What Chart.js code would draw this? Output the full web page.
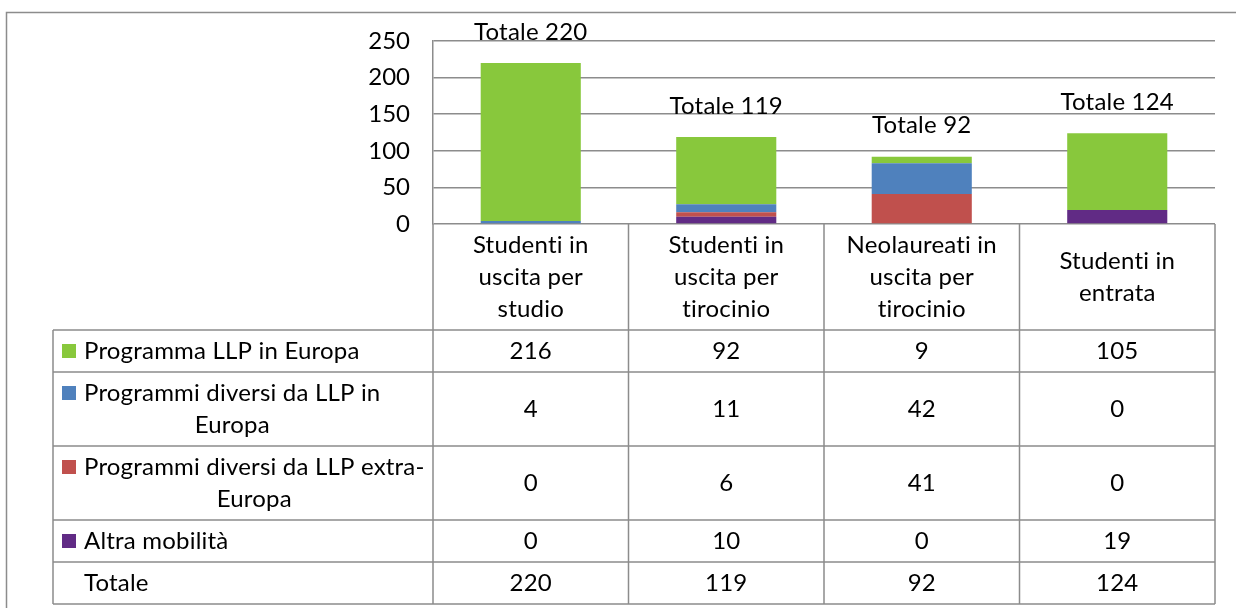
<!DOCTYPE html>
<html>
<head>
<meta charset="utf-8">
<script src="https://cdn.jsdelivr.net/npm/chart.js@4"></script>
<style>
  body { margin: 0; background: #fff; }
  #wrap { width: 1236px; height: 608px; position: relative; }
</style>
</head>
<body>
<div id="wrap"><canvas id="grafico" width="1236" height="608"></canvas></div>
<script>
// dati
const categorie = [
  ['Studenti in', 'uscita per', 'studio'],
  ['Studenti in', 'uscita per', 'tirocinio'],
  ['Neolaureati in', 'uscita per', 'tirocinio'],
  ['Studenti in', 'entrata']
];
const serieNomi = [
  ['Programma LLP in Europa'],
  ['Programmi diversi da LLP in', 'Europa'],
  ['Programmi diversi da LLP extra-', 'Europa'],
  ['Altra mobilità']
];
const llpEuropa = [216, 92, 9, 105];
const diversiEuropa = [4, 11, 42, 0];
const diversiExtra = [0, 6, 41, 0];
const altraMobilita = [0, 10, 0, 19];
const totali = [220, 119, 92, 124];
const yTicks = [0, 50, 100, 150, 200, 250];

const colori = ['#88c83c', '#4f81bd', '#c0504d', '#612b85'];
const FONT = 'Lato, Carlito, Calibri, sans-serif';
const SIZE = 24;
const GRIGIO = '#8c8c8c';

const righeTabella = [llpEuropa, diversiEuropa, diversiExtra, altraMobilita];

function testo(ctx) {
  ctx.font = SIZE + 'px ' + FONT;
  ctx.letterSpacing = '0.2px'; // niente legature "ti"
  ctx.fillStyle = '#000';
  ctx.textBaseline = 'middle';
}

const tabella = {
  id: 'tabella',
  beforeDraw(chart) {
    const ctx = chart.ctx;
    // cornice esterna
    ctx.save();
    ctx.strokeStyle = GRIGIO;
    ctx.lineWidth = 1.5;
    ctx.strokeRect(6.5, 12.5, 1260, 620);
    ctx.restore();
  },
  afterDatasetsDraw(chart) {
    const ctx = chart.ctx;
    const meta = chart.getDatasetMeta(chart.data.datasets.length - 1);
    ctx.save();
    testo(ctx);
    ctx.textAlign = 'center';
    meta.data.forEach((el, i) => {
      ctx.fillText('Totale ' + totali[i], el.x, el.y - 31);
    });
    ctx.restore();
  },
  afterDraw(chart) {
    const ctx = chart.ctx;
    const a = chart.chartArea;
    const x = chart.scales.x;
    const lh = 32;
    const sinistra = 53;
    const n = categorie.length;
    const passo = (a.right - a.left) / n;

    // altezze righe
    const altezze = [3 * lh + 10];
    serieNomi.forEach(s => altezze.push(s.length * lh + 10));
    altezze.push(lh + 10);
    const ys = [a.bottom];
    altezze.forEach(h => ys.push(ys[ys.length - 1] + h));

    ctx.save();
    ctx.strokeStyle = GRIGIO;
    ctx.lineWidth = 1.5;
    ctx.beginPath();
    for (let r = 1; r < ys.length; r++) {
      ctx.moveTo(sinistra, ys[r]);
      ctx.lineTo(a.right, ys[r]);
    }
    for (let c = 0; c <= n; c++) {
      const xx = a.left + c * passo;
      ctx.moveTo(xx, a.bottom);
      ctx.lineTo(xx, ys[ys.length - 1]);
    }
    ctx.moveTo(sinistra, ys[1]);
    ctx.lineTo(sinistra, ys[ys.length - 1]);
    ctx.stroke();

    testo(ctx);
    ctx.textAlign = 'center';
    // intestazioni
    categorie.forEach((righe, i) => {
      const cx = x.getPixelForValue(i);
      const cy = (ys[0] + ys[1]) / 2;
      righe.forEach((t, k) => {
        ctx.fillText(t, cx, cy + (k - (righe.length - 1) / 2) * lh);
      });
    });
    // righe serie
    const xTesto = sinistra + 31;
    serieNomi.forEach((nome, r) => {
      const top = ys[r + 1];
      const cy = (ys[r + 1] + ys[r + 2]) / 2;
      const primaY = top + 5 + lh / 2;
      const larg = Math.max(...nome.map(t => ctx.measureText(t).width));
      ctx.fillStyle = colori[r];
      ctx.fillRect(sinistra + 9, primaY - 7, 14, 14);
      ctx.fillStyle = '#000';
      ctx.textAlign = 'center';
      nome.forEach((t, k) => {
        ctx.fillText(t, xTesto + larg / 2, primaY + k * lh);
      });
      righeTabella[r].forEach((v, i) => {
        ctx.fillText(String(v), x.getPixelForValue(i), cy);
      });
    });
    // totale
    const ty = (ys[ys.length - 2] + ys[ys.length - 1]) / 2;
    ctx.textAlign = 'left';
    ctx.fillText('Totale', xTesto, ty);
    ctx.textAlign = 'center';
    totali.forEach((v, i) => ctx.fillText(String(v), x.getPixelForValue(i), ty));
    ctx.restore();
  }
};

new Chart(document.getElementById('grafico'), {
  type: 'bar',
  data: {
    labels: categorie.map(c => c.join(' ')),
    datasets: [
      { label: serieNomi[3][0], data: altraMobilita, backgroundColor: colori[3] },
      { label: serieNomi[2].join(' '), data: diversiExtra, backgroundColor: colori[2] },
      { label: serieNomi[1].join(' '), data: diversiEuropa, backgroundColor: colori[1] },
      { label: serieNomi[0][0], data: llpEuropa, backgroundColor: colori[0] }
    ]
  },
  options: {
    responsive: false,
    animation: false,
    devicePixelRatio: 1,
    layout: { padding: { left: 333, top: 41, right: 21, bottom: 384 } },
    datasets: { bar: { categoryPercentage: 1, barPercentage: 0.512, borderWidth: 0 } },
    plugins: { legend: { display: false }, tooltip: { enabled: false } },
    scales: {
      x: { stacked: true, display: false },
      y: {
        stacked: true,
        min: 0, max: 250,
        afterFit(s) { s.width = 100; },
        afterBuildTicks(s) { s.ticks = yTicks.map(v => ({ value: v })); },
        grid: { color: GRIGIO, lineWidth: 1.5, drawTicks: false },
        border: { color: GRIGIO, width: 1.5 },
        ticks: { padding: 23, color: '#000', font: { family: FONT, size: SIZE } }
      }
    }
  },
  plugins: [tabella]
});
</script>
</body>
</html>
